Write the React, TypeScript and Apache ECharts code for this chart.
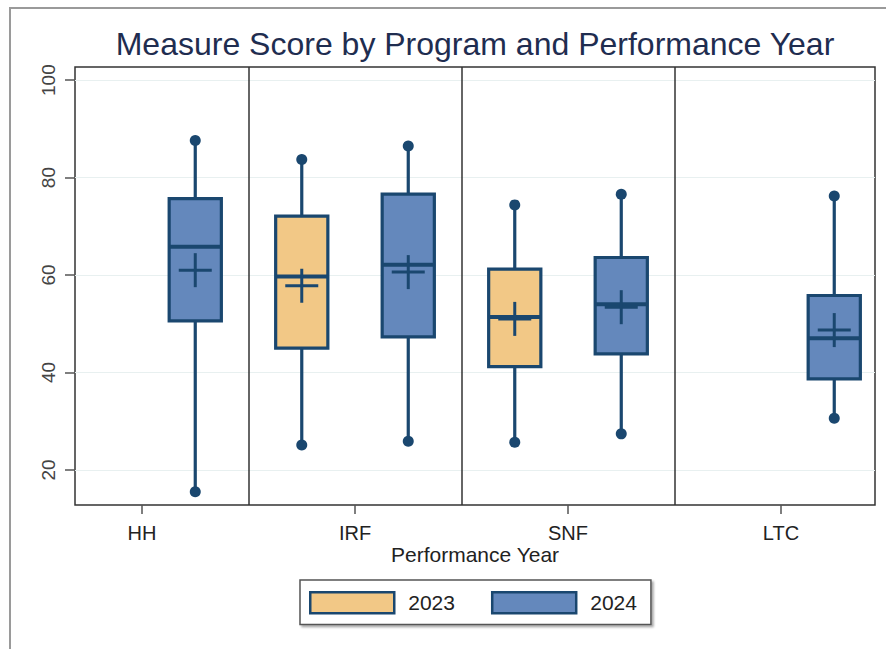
import React, { useEffect, useRef } from "react";
import * as echarts from "echarts";

// ---- data ----
const categories = ["HH", "IRF", "SNF", "LTC"];
const seriesNames = ["2023", "2024"];
// each entry: [min, q1, median, q3, max, mean]; null = no box
const values2023: (number[] | null)[] = [
  null,
  [25.1, 45.0, 59.7, 72.1, 83.7, 57.8],
  [25.7, 41.2, 51.4, 61.2, 74.4, 51.0],
  null,
];
const values2024: (number[] | null)[] = [
  [15.5, 50.6, 65.8, 75.7, 87.6, 61.0],
  [25.9, 47.3, 62.1, 76.6, 86.5, 60.6],
  [27.4, 43.8, 54.0, 63.6, 76.6, 53.4],
  [30.6, 38.7, 47.0, 55.8, 76.2, 48.7],
];
const yTickValues = [20, 40, 60, 80, 100];
const xTickValues = [0, 1, 2, 3];

// ---- styling ----
const FONT = "'Liberation Sans', Arial, sans-serif";
const NAVY = "#1a476f";
const FILL_2023 = "#f2c886";
const FILL_2024 = "#6488bc";
const BOX_W = 0.245; // in category units
const GROUP_OFFSET = 0.25;

function buildData(vals: (number[] | null)[], offset: number) {
  const out: number[][] = [];
  vals.forEach((v, i) => {
    if (v) out.push([i + offset, ...v]);
  });
  return out;
}

function makeRenderItem(fill: string) {
  return (params: any, api: any) => {
    const x = api.value(0);
    const pMin = api.coord([x, api.value(1)]);
    const pQ1 = api.coord([x, api.value(2)]);
    const pMed = api.coord([x, api.value(3)]);
    const pQ3 = api.coord([x, api.value(4)]);
    const pMax = api.coord([x, api.value(5)]);
    const pMean = api.coord([x, api.value(6)]);
    const halfW = api.size([BOX_W, 0])[0] / 2;
    const cx = pMed[0];
    const lineStyle = { stroke: NAVY, lineWidth: 3.2 };
    return {
      type: "group",
      children: [
        { type: "line", shape: { x1: cx, y1: pQ3[1], x2: cx, y2: pMax[1] }, style: lineStyle },
        { type: "line", shape: { x1: cx, y1: pQ1[1], x2: cx, y2: pMin[1] }, style: lineStyle },
        {
          type: "rect",
          shape: { x: cx - halfW, y: pQ3[1], width: halfW * 2, height: pQ1[1] - pQ3[1] },
          style: { fill, stroke: NAVY, lineWidth: 3.2 },
        },
        {
          type: "line",
          shape: { x1: cx - halfW, y1: pMed[1], x2: cx + halfW, y2: pMed[1] },
          style: { stroke: NAVY, lineWidth: 4 },
        },
        {
          type: "line",
          shape: { x1: cx - 16.5, y1: pMean[1], x2: cx + 16.5, y2: pMean[1] },
          style: { stroke: NAVY, lineWidth: 3 },
        },
        {
          type: "line",
          shape: { x1: cx, y1: pMean[1] - 17, x2: cx, y2: pMean[1] + 17 },
          style: { stroke: NAVY, lineWidth: 3 },
        },
        { type: "circle", shape: { cx, cy: pMax[1], r: 5.5 }, style: { fill: NAVY } },
        { type: "circle", shape: { cx, cy: pMin[1], r: 5.5 }, style: { fill: NAVY } },
      ],
    };
  };
}

export default function App() {
  const ref = useRef<HTMLDivElement>(null);
  useEffect(() => {
    if (!ref.current) return;
    const chart = echarts.init(ref.current, null, { renderer: "svg" });
    const option: any = {
      animation: false,
      backgroundColor: "#ffffff",
      textStyle: { fontFamily: FONT },
      title: {
        text: "Measure Score by Program and Performance Year",
        left: 475,
        top: 28,
        padding: 0,
        textAlign: "center",
        textStyle: { fontFamily: FONT, fontSize: 32, fontWeight: "normal", color: "#1f2d50" },
      },
      graphic: [
        {
          type: "rect",
          shape: { x: 10, y: 8, width: 1000, height: 1000 },
          style: { fill: "none", stroke: "#9a9a9a", lineWidth: 2 },
          silent: true,
          z: -10,
        },
      ],
      legend: {
        left: 300,
        top: 580,
        orient: "horizontal",
        padding: [11, 14, 10, 9],
        itemWidth: 84,
        itemHeight: 21,
        itemGap: 36,
        borderColor: "#555",
        borderWidth: 1.5,
        borderRadius: 0,
        backgroundColor: "#fff",
        shadowColor: "rgba(0,0,0,0.35)",
        shadowBlur: 2,
        shadowOffsetX: 2,
        shadowOffsetY: 2,
        textStyle: { fontFamily: FONT, fontSize: 21, color: "#222", padding: [0, 0, 0, 9] },
        data: [
          { name: seriesNames[0], icon: "rect", itemStyle: { color: FILL_2023, borderColor: NAVY, borderWidth: 2.5 } },
          { name: seriesNames[1], icon: "rect", itemStyle: { color: FILL_2024, borderColor: NAVY, borderWidth: 2.5 } },
        ],
      },
      grid: {
        left: 75,
        right: 11,
        top: 67,
        bottom: 144,
        show: true,
        borderColor: "#333",
        borderWidth: 1.5,
        backgroundColor: "#fff",
        containLabel: false,
      },
      xAxis: {
        type: "value",
        min: -0.3146,
        max: 3.4413,
        name: "Performance Year",
        nameLocation: "middle",
        nameGap: 39,
        nameMoveOverlap: false,
        nameTextStyle: { fontFamily: FONT, fontSize: 21, color: "#222" },
        axisLine: { show: false, onZero: false },
        axisTick: { show: true, length: 9, lineStyle: { color: "#555", width: 1.5 }, customValues: xTickValues },
        axisLabel: {
          show: true,
          customValues: xTickValues,
          formatter: (v: number) => categories[Math.round(v)] ?? "",
          fontFamily: FONT,
          fontSize: 20,
          color: "#222",
          margin: 18,
        },
        splitLine: { show: false },
      },
      yAxis: {
        type: "value",
        min: 12.8,
        max: 102.7,
        axisLine: { show: false, onZero: false },
        axisTick: { show: true, length: 10, lineStyle: { color: "#555", width: 1.5 }, customValues: yTickValues },
        axisLabel: {
          customValues: yTickValues,
          rotate: 90,
          fontFamily: FONT,
          fontSize: 19,
          color: "#444",
          margin: 17,
        },
        splitLine: { show: true, lineStyle: { color: "#e8f0f0", width: 1.2 } },
      },
      series: [
        {
          name: seriesNames[0],
          type: "custom",
          itemStyle: { color: FILL_2023 },
          renderItem: makeRenderItem(FILL_2023),
          data: buildData(values2023, -GROUP_OFFSET),
          encode: { x: 0, y: [1, 2, 3, 4, 5, 6] },
          z: 3,
          markLine: {
            silent: true,
            symbol: "none",
            label: { show: false },
            lineStyle: { color: "#333", width: 1.5, type: "solid" },
            data: [{ xAxis: 0.5 }, { xAxis: 1.5 }, { xAxis: 2.5 }],
          },
        },
        {
          name: seriesNames[1],
          type: "custom",
          itemStyle: { color: FILL_2024 },
          renderItem: makeRenderItem(FILL_2024),
          data: buildData(values2024, GROUP_OFFSET),
          encode: { x: 0, y: [1, 2, 3, 4, 5, 6] },
          z: 3,
        },
      ],
    };
    chart.setOption(option);
    return () => chart.dispose();
  }, []);
  return (
    <div
      ref={ref}
      style={{ position: "fixed", left: 0, top: 0, width: 886, height: 649 }}
    />
  );
}
